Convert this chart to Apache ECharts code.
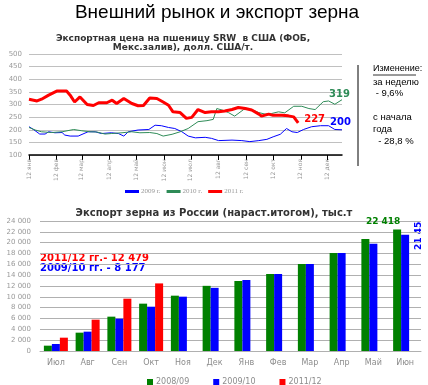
<!DOCTYPE html>
<html><head><meta charset="utf-8">
<script src="https://cdn.jsdelivr.net/npm/echarts@6/dist/echarts.min.js"></script>
<style>html,body{margin:0;padding:0;background:#fff}#c{width:428px;height:385px}</style>
</head><body><div id="c"></div>
<script>
// ---- Top chart: SRW export price (day offset from 12 Jan) ----
const monthTickDays = [0,31,59,90,120,151,181,212,243,273,304,334];
const monthTickLabels = ['12 янв','12 фев','12 мар','12 апр','12 май','12 июн','12 июл','12 авг','12 сен','12 окт','12 ноя','12 дек'];

const days2011 = [0,9,14,22,31,42,46,51,57,65,72,78,87,93,98,106,115,122,128,135,143,150,156,161,169,176,182,189,197,204,212,219,227,234,242,249,257,260,268,273,283,290,296,301];
const price2011 = [321,314,321,337,353,353,337,310,330,300,296,307,307,317,304,324,304,295,296,326,324,310,297,271,268,245,249,280,268,271,271,274,280,288,284,278,262,254,262,257,257,255,251,227];

const days2010 = [0,7,14,25,37,50,59,68,76,85,92,104,115,124,135,143,150,160,169,178,189,199,206,210,216,223,230,240,249,257,264,271,279,286,296,305,313,320,329,335,342,350];
const price2010 = [209,199,192,189,192,201,196,192,191,183,185,188,192,188,189,185,175,182,192,205,232,236,241,284,278,268,254,280,280,268,262,264,271,267,293,293,284,280,311,314,301,319];

const days2009 = [0,5,12,18,22,29,37,40,46,55,66,74,81,92,100,106,111,122,134,141,148,156,163,171,178,186,197,204,212,227,238,247,257,266,273,281,288,294,300,307,316,326,335,342,350];
const price2009 = [212,201,183,183,192,188,189,179,175,175,192,192,185,188,185,175,192,199,201,218,216,209,205,192,175,168,170,166,157,159,157,153,157,162,172,182,205,192,189,201,212,216,216,201,200];

// ---- Bottom chart: grain exports, cumulative, thousand t ----
const exportMonths = ['Июл','Авг','Сен','Окт','Ноя','Дек','Янв','Фев','Мар','Апр','Май','Июн'];
const exp2008 = [985,3385,6340,8740,10215,12030,12923,14215,16062,18093,20677,22418];
const exp2009 = [1290,3570,5970,8177,10030,11660,13108,14215,16062,18093,19816,21450];
const exp2011 = [2460,5785,9660,12479,null,null,null,null,null,null,null,null];

const zip = (a,b) => a.map((d,i)=>[d,b[i]]);
const fmtK = v => { if(v===0) return '0'; const t=Math.floor(v/1000), r=String(v%1000).padStart(3,'0'); return t+' '+r; };

const chart = echarts.init(document.getElementById('c'), null, {renderer:'canvas'});
const gray = '#8c8c8c';

chart.setOption({
  animation:false,
  textStyle:{fontFamily:'DejaVu Sans'},
  title:[
    {text:'Внешний рынок и экспорт зерна', left:212, textAlign:'center', top:-2,
     textStyle:{fontSize:19, fontWeight:'normal', fontFamily:'Liberation Sans', color:'#000'}},
    {text:'Экспортная цена на пшеницу SRW  в США (ФОБ,\nМекс.залив), долл. США/т.', left:178, textAlign:'center', top:29,
     textStyle:{fontSize:9, fontWeight:'bold', fontFamily:'DejaVu Sans', color:'#333', lineHeight:9}},
    {text:'Экспорт зерна из России (нараст.итогом), тыс.т', left:209, textAlign:'center', top:203,
     textStyle:{fontSize:10, fontWeight:'bold', fontFamily:'DejaVu Sans', color:'#333'}}
  ],
  grid:[
    {left:29, top:54, width:313, height:101},
    {left:40, top:221, width:381, height:130}
  ],
  legend:[
    {data:['2009 г.','2010 г.','2011 г.'], left:120, top:183, itemWidth:14, itemHeight:3, itemGap:6,
     textStyle:{fontSize:7, color:'#999', fontFamily:'Liberation Serif', padding:[0,0,0,-3]}, icon:'rect'},
    {data:['2008/09','2009/10','2011/12'], left:142, top:373, itemWidth:6, itemHeight:6, itemGap:24,
     textStyle:{fontSize:8, color:gray, fontFamily:'DejaVu Sans', padding:[0,0,0,-2]}, icon:'rect'}
  ],
  xAxis:[
    {type:'value', gridIndex:0, min:0, max:350,
     axisLine:{lineStyle:{color:'#000', width:1.5}},
     axisTick:{customValues:monthTickDays, length:5, lineStyle:{color:'#000'}},
     axisLabel:{customValues:monthTickDays, rotate:90, fontSize:6, color:'#999', margin:4,
       formatter:v=>monthTickLabels[monthTickDays.indexOf(v)]},
     splitLine:{show:false}},
    {type:'category', gridIndex:1, data:exportMonths,
     axisLine:{lineStyle:{color:'#b0b0b0'}}, axisTick:{show:false},
     axisLabel:{fontSize:8, color:gray, margin:8}}
  ],
  yAxis:[
    {type:'value', gridIndex:0, min:100, max:500, interval:50,
     axisLine:{show:false}, axisTick:{show:false},
     axisLabel:{fontSize:7, color:'#999', margin:7},
     splitLine:{lineStyle:{color:'#c0c0c0', width:1}}},
    {type:'value', gridIndex:1, min:0, max:24000, interval:2000,
     axisLine:{show:false}, axisTick:{show:false},
     axisLabel:{fontSize:7, color:'#999', margin:9, formatter:fmtK},
     splitLine:{lineStyle:{color:'#b0b0b0', width:1}}}
  ],
  series:[
    {name:'2009 г.', type:'line', xAxisIndex:0, yAxisIndex:0, data:zip(days2009,price2009),
     showSymbol:false, lineStyle:{color:'#0000ff', width:1}, itemStyle:{color:'#0000ff'},
     endLabel:{show:true, offset:[-20,-7], fontSize:10, fontWeight:'bold', color:'#0000ff', fontFamily:'DejaVu Sans'}},
    {name:'2010 г.', type:'line', xAxisIndex:0, yAxisIndex:0, data:zip(days2010,price2010),
     showSymbol:false, lineStyle:{color:'#2e8b57', width:1}, itemStyle:{color:'#2e8b57'},
     endLabel:{show:true, offset:[-21,-5], fontSize:10, fontWeight:'bold', color:'#2e8b57', fontFamily:'DejaVu Sans'}},
    {name:'2011 г.', type:'line', xAxisIndex:0, yAxisIndex:0, data:zip(days2011,price2011),
     showSymbol:false, lineStyle:{color:'#ff0000', width:3}, itemStyle:{color:'#ff0000'},
     endLabel:{show:true, offset:[-2,-4], fontSize:10, fontWeight:'bold', color:'#ff0000', fontFamily:'DejaVu Sans'}},
    {name:'2008/09', type:'bar', xAxisIndex:1, yAxisIndex:1, barWidth:8, barGap:'0%',
     itemStyle:{color:'#008000'},
     data:exp2008.map((v,i)=> i===exp2008.length-1 ? {value:v, label:{show:true, position:'top', offset:[-14,2], fontSize:9, color:'#008000', fontWeight:'bold', formatter:p=>fmtK(p.value)}} : v)},
    {name:'2009/10', type:'bar', xAxisIndex:1, yAxisIndex:1, barWidth:8,
     itemStyle:{color:'#0000ff'}, data:exp2009},
    {name:'2011/12', type:'bar', xAxisIndex:1, yAxisIndex:1, barWidth:8,
     itemStyle:{color:'#ff0000'}, data:exp2011}
  ],
  graphic:[
    {type:'line', shape:{x1:358, y1:65, x2:358, y2:166}, style:{stroke:'#000', lineWidth:1}},
    {type:'text', left:373, top:64, style:{text:'Изменение:', fontSize:9, fill:'#000', fontFamily:'Liberation Sans'}},
    {type:'line', shape:{x1:373, y1:75, x2:416, y2:75}, style:{stroke:'#000', lineWidth:0.8}},
    {type:'text', left:373, top:76, style:{text:'за неделю\n - 9,6%\n\nс начала\nгода\n  - 28,8 %', fontSize:9.5, lineHeight:11.8, fill:'#000', fontFamily:'Liberation Sans'}},
    {type:'text', left:40, top:253, style:{text:'2011/12 гг.- '+fmtK(exp2011[3]), fontSize:10, fill:'#ff0000', fontWeight:'bold', fontFamily:'DejaVu Sans'}},
    {type:'text', left:40, top:263, style:{text:'2009/10 гг. - '+fmtK(exp2009[3]), fontSize:10, fill:'#0000ff', fontWeight:'bold', fontFamily:'DejaVu Sans'}},
    {type:'text', x:414, y:250, rotation:Math.PI/2, style:{text:'21 45', fontSize:9, fill:'#0000ff', fontWeight:'bold', fontFamily:'DejaVu Sans'}}
  ]
});
</script></body></html>
